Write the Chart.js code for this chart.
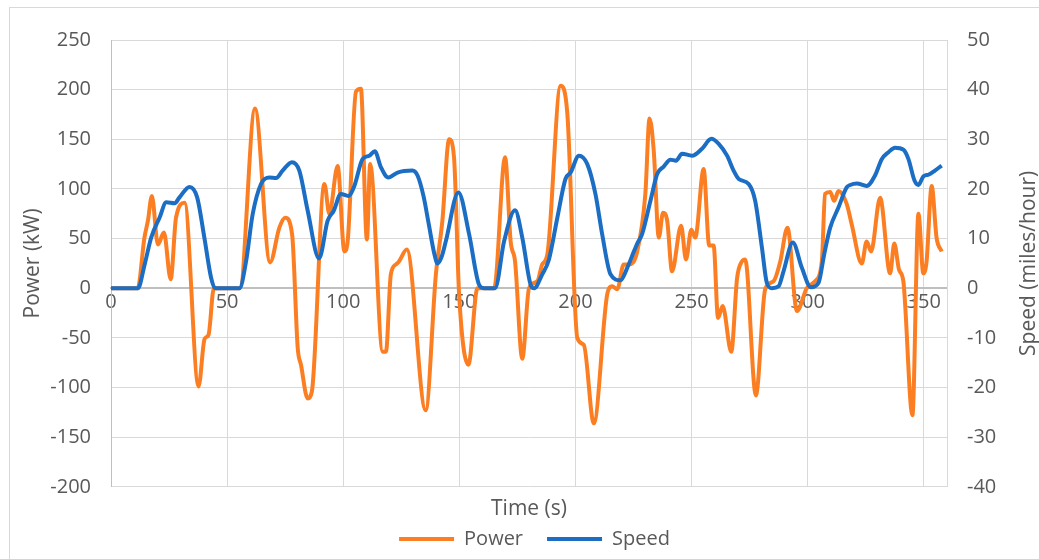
<!DOCTYPE html>
<html>
<head>
<meta charset="utf-8">
<script src="https://cdn.jsdelivr.net/npm/chart.js@4.4.0/dist/chart.umd.min.js"></script>
<style>
  html, body { margin: 0; padding: 0; background: #fff; }
</style>
</head>
<body>
<canvas id="chart_one" width="1039" height="559"></canvas>
<script>
// power trace (kW) against time (s)
const powerTime = [0, 11.5, 14.4, 15.9, 17.6, 20.2, 22.8, 25.7, 28, 31.7, 37.7, 40.3, 42, 44.3, 55.5,
  62, 68.5, 72.5, 75, 78, 80.4, 81.8, 84.7, 86.5, 91.9, 94, 97.6, 100.5, 101.9, 105.5, 107.6,
  110.2, 111.6, 117, 118.4, 120.5, 122.7, 124, 127.4, 135.5, 139.9, 142.7, 145.6, 147.7, 149.9,
  153.9, 157.8, 165, 169.7, 172.1, 174, 177.1, 180, 183.6, 185.7, 187.9, 193.6, 196.5, 200.8,
  203.6, 207.9, 213.7, 215.8, 218, 220.8, 223, 226.6, 230.1, 231.9, 233.7, 235.9, 237.7, 239.5,
  241.6, 245.5, 247.6, 249.9, 251.6, 255.2, 257.6, 259.5, 261.4, 263.4, 267.1, 269.6, 271.7,
  273.1, 277.7, 281.7, 285.3, 288.2, 291.3, 295.4, 299.6, 303.2, 306.1, 307.5, 309.7, 311.4,
  313.3, 316.8, 319, 323.3, 325.4, 327.3, 331.2, 335.5, 337.3, 339.3, 341.2, 345.1, 347.7,
  349.8, 351.2, 353.4, 355.5, 357.7];
const powerKw = [0, 0, 51, 68, 93, 44, 56, 9, 71, 86, -99, -51, -47, 0, 0,
  181, 26, 61, 71, 54, -60, -77, -111, -104, 105, 75, 123, 37, 47, 198, 201,
  49, 125, -64, -64, 14, 24, 27, 39, -123, 14, 68, 150, 132, -6,
  -77, 0, 0, 132, 47, 27, -71, 0, 7, 24, 34, 204, 176, -50,
  -57, -136, -6, 2, -1, 24, 24, 37, 95, 171, 139, 51, 76, 68,
  17, 63, 29, 59, 51, 120, 43, 43, -30, -18, -64, 10, 27,
  29, -108, -1, 7, 27, 61, -23, 0, 7, 27, 95, 97, 88,
  98, 85, 64, 25, 47, 37, 91, 15, 45, 19, 7, -128, 75,
  15, 27, 103, 51, 37];

// speed trace (miles/hour) against time (s)
const speedTime = [0, 11.6, 14.5, 17.3, 20.9, 23.8, 27.4, 29.5, 33.8, 37.1, 40.2, 43.1, 44.8, 55.3,
  58.2, 61, 64.6, 68.2, 71.1, 73.9, 77.9, 81.1, 84.7, 89.6, 93.3, 95.9, 99, 102.2, 104.8,
  108.3, 111.2, 113.6, 116.2, 119.4, 123.4, 129.8, 132, 134.6, 136.8, 139.2, 140.6, 142.5,
  144.2, 149.6, 154.2, 158.5, 160.6, 165.4, 169.3, 174, 177.1, 180.7, 182.2, 185.7, 188.6,
  192.2, 195.7, 197.9, 201.5, 205.1, 208.6, 211.5, 215.1, 219.4, 222.3, 224.4, 226.6, 228.7,
  232.3, 235.2, 238, 240.9, 243.3, 245.9, 250.2, 254.5, 258.5, 261.7, 265.3, 268.1, 270.3,
  274.6, 277.4, 280.3, 282.4, 284.6, 287.5, 289.6, 293.6, 297.5, 301.4, 304.7, 307.1, 309.7,
  313.3, 316.8, 318.3, 321.2, 325.4, 329, 331.9, 334.8, 337.6, 341.2, 343.4, 346, 347.7,
  349.8, 352.2, 354.8, 357.7];
const speedMph = [0, 0, 4.8, 10.2, 14.2, 17.3, 17.1, 18.3, 20.4, 18.3, 10.2, 2.1, 0, 0,
  5.5, 14.9, 21, 22.3, 22.2, 23.7, 25.4, 23.7, 15.6, 6, 13.6, 15.6, 19, 18.6, 20.6,
  26, 26.7, 27.6, 24.4, 22.3, 23.3, 23.7, 22.7, 18.5, 13, 7, 5, 6.5,
  9.5, 19.3, 10.9, 0.7, 0, 0, 9.5, 15.7, 10.2, 0.7, 0, 2.8, 5.8,
  14.2, 22, 23.3, 26.7, 25, 19, 10.9, 2.8, 1.6, 4.1, 6.5, 9, 10.9,
  17.6, 23, 24.5, 25.9, 25.7, 27.1, 26.7, 28.1, 30.1, 29.1, 26.7, 23.7, 22,
  21, 17.6, 8.2, 1.1, 0, 0.4, 3.4, 9.2, 4.1, 0.2, 1.1, 6.8, 12.2,
  16.3, 20.3, 20.8, 21.1, 20.6, 22.7, 26, 27.4, 28.3, 27.9, 26, 21.7, 20.8,
  22.5, 22.9, 23.7, 24.7];

const timeTicks = [0, 50, 100, 150, 200, 250, 300, 350];

const toPoints = (xs, ys) => xs.map((x, i) => ({x: x, y: ys[i]}));

Chart.defaults.font.family = '"Open Sans", sans-serif';
Chart.defaults.color = '#595959';

// axis titles drawn like excel (both read bottom to top) plus the outer frame
const excelBits = {
  id: 'excelBits',
  beforeDraw(chart) {
    const c = chart.ctx;
    c.save();
    c.strokeStyle = '#d9d9d9';
    c.lineWidth = 1;
    c.strokeRect(9.5, 7.5, 1100, 700);
    c.restore();
  },
  afterDraw(chart) {
    const c = chart.ctx;
    const a = chart.chartArea;
    const midY = (a.top + a.bottom) / 2;
    c.save();
    c.fillStyle = '#595959';
    c.font = '21px "Open Sans"';
    c.textAlign = 'center';
    c.textBaseline = 'middle';
    c.translate(33, midY);
    c.rotate(-Math.PI / 2);
    c.fillText('Power (kW)', 0, 0);
    c.restore();
    c.save();
    c.fillStyle = '#595959';
    c.font = '21px "Open Sans"';
    c.textAlign = 'center';
    c.textBaseline = 'middle';
    c.translate(1029, midY);
    c.rotate(-Math.PI / 2);
    c.fillText('Speed (miles/hour)', 0, 0);
    c.restore();
  }
};

new Chart(document.getElementById('chart_one'), {
  type: 'line',
  data: {
    datasets: [{
      label: 'Power',
      data: toPoints(powerTime, powerKw),
      borderColor: '#FC7E22',
      backgroundColor: '#FC7E22',
      borderWidth: 4,
      pointRadius: 0,
      cubicInterpolationMode: 'monotone',
      yAxisID: 'y',
      order: 2
    }, {
      label: 'Speed',
      data: toPoints(speedTime, speedMph),
      borderColor: '#1B6EC3',
      backgroundColor: '#1B6EC3',
      borderWidth: 4,
      pointRadius: 0,
      cubicInterpolationMode: 'monotone',
      yAxisID: 'y1',
      order: 1
    }]
  },
  options: {
    responsive: false,
    animation: false,
    layout: { padding: { top: 40, bottom: 0, left: 30, right: 0 } },
    scales: {
      x: {
        type: 'linear',
        position: { y: 0 },
        min: 0,
        max: 360,
        afterBuildTicks: s => { s.ticks = timeTicks.map(v => ({value: v})); },
        grid: { color: '#d9d9d9', drawTicks: false },
        border: { color: '#bfbfbf', width: 2 },
        ticks: { font: { size: 20 }, padding: 2, maxRotation: 0, autoSkip: false }
      },
      xt: {
        type: 'linear',
        position: 'bottom',
        min: 0,
        max: 360,
        grid: { display: false },
        border: { display: false },
        ticks: { display: false },
        title: { display: true, text: 'Time (s)', font: { size: 21 }, padding: { top: 2, bottom: -17 } }
      },
      y: {
        position: 'left',
        min: -200,
        max: 250,
        ticks: { stepSize: 50, font: { size: 20 }, padding: 20 },
        grid: { color: '#d9d9d9', drawTicks: false },
        border: { color: '#bfbfbf' },
        afterFit: s => { s.width = 81; }
      },
      y1: {
        position: 'right',
        min: -40,
        max: 50,
        ticks: { stepSize: 10, font: { size: 20 }, padding: 20 },
        grid: { drawOnChartArea: false, drawTicks: false },
        border: { color: '#d9d9d9' },
        afterFit: s => { s.width = 92; }
      }
    },
    plugins: {
      legend: {
        position: 'bottom',
        labels: {
          usePointStyle: true,
          pointStyle: 'line',
          pointStyleWidth: 55,
          font: { size: 20 },
          padding: 24,
          sort: (a, b) => a.datasetIndex - b.datasetIndex
        }
      },
      tooltip: { enabled: false }
    }
  },
  plugins: [excelBits]
});
</script>
</body>
</html>
